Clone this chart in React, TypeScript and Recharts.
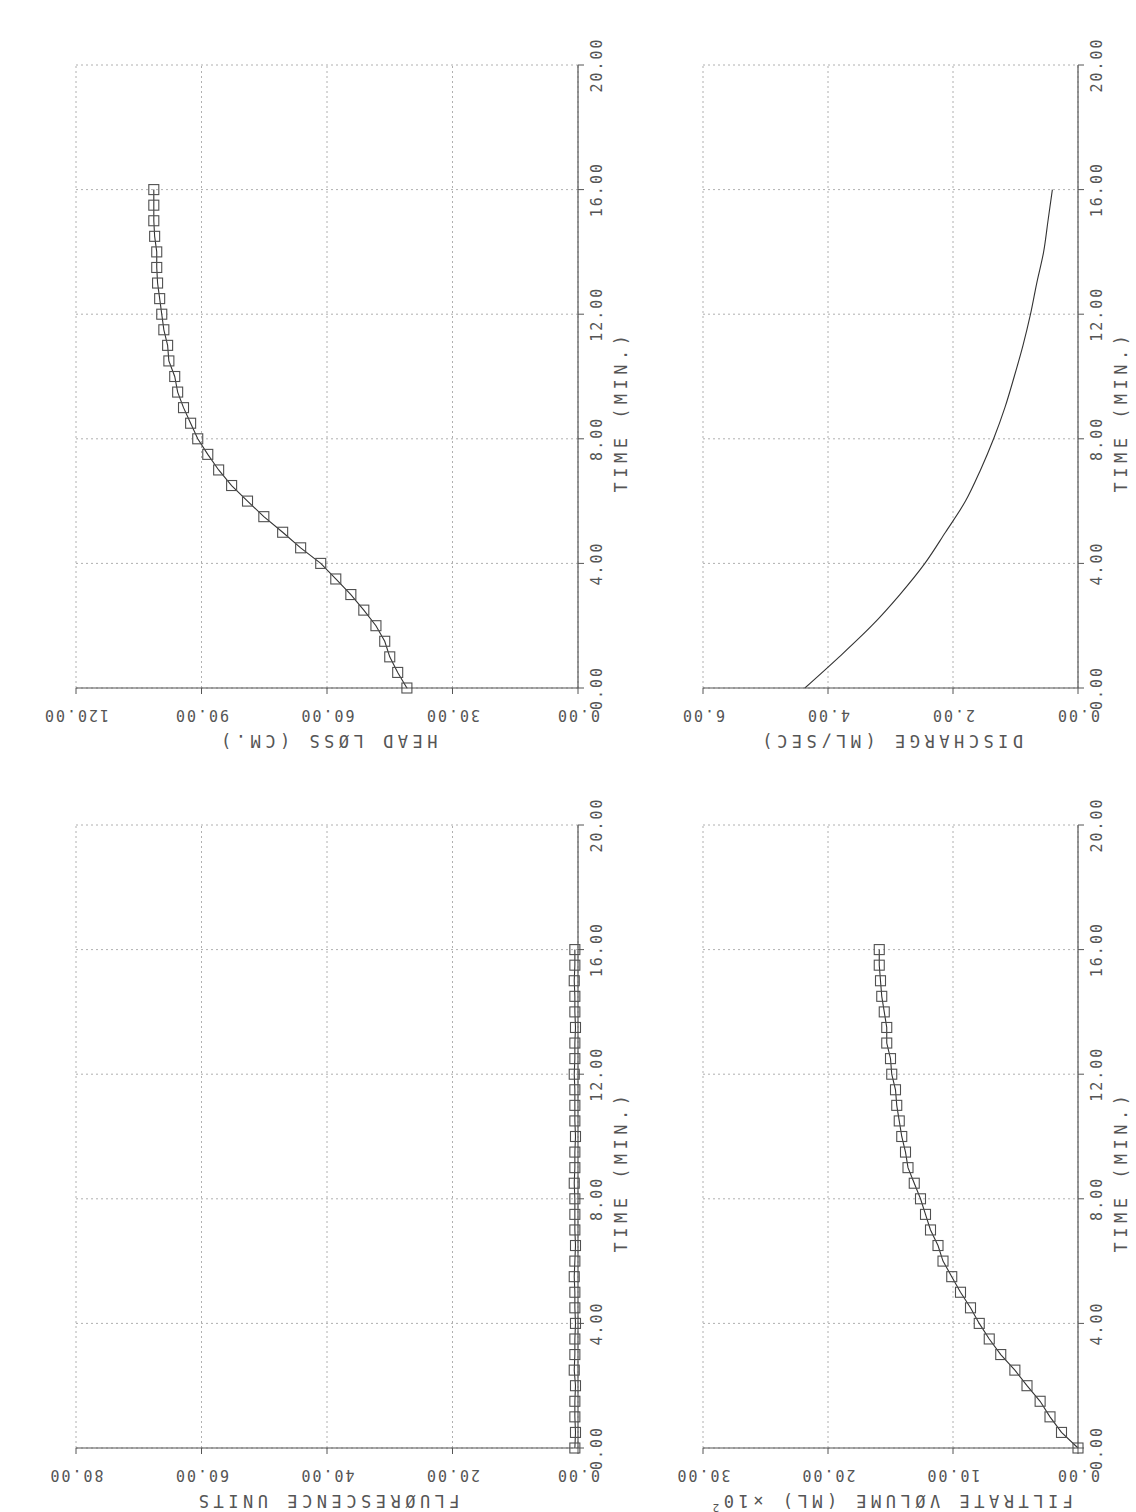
import { LineChart, Line, XAxis, YAxis, CartesianGrid } from "recharts";

// sampled every half minute, 0 to 16 min
const TIME_MIN = [
  0, 0.5, 1, 1.5, 2, 2.5, 3, 3.5, 4, 4.5, 5, 5.5, 6, 6.5, 7, 7.5, 8, 8.5, 9,
  9.5, 10, 10.5, 11, 11.5, 12, 12.5, 13, 13.5, 14, 14.5, 15, 15.5, 16,
];

const HEAD_LOSS_CM = [
  40.9, 43.1, 45.0, 46.2, 48.3, 51.2, 54.3, 57.9, 61.5, 66.3, 70.6, 75.1, 79.0,
  82.8, 85.9, 88.5, 90.9, 92.6, 94.3, 95.7, 96.4, 97.8, 98.1, 99.0, 99.5, 100.0,
  100.5, 100.7, 100.7, 101.2, 101.4, 101.4, 101.4,
];

const FLUORESCENCE_UNITS = [
  0.5, 0.4, 0.5, 0.5, 0.4, 0.6, 0.5, 0.5, 0.4, 0.5, 0.5, 0.6, 0.5, 0.4, 0.5,
  0.5, 0.5, 0.6, 0.5, 0.5, 0.4, 0.5, 0.5, 0.5, 0.6, 0.5, 0.5, 0.4, 0.5, 0.5,
  0.6, 0.5, 0.5,
];

// x10^2 ml
const FILTRATE_VOLUME = [
  0, 1.32, 2.24, 3.03, 4.08, 5.05, 6.18, 7.1, 7.9, 8.6, 9.4, 10.1, 10.8, 11.2,
  11.8, 12.2, 12.6, 13.1, 13.6, 13.8, 14.1, 14.3, 14.5, 14.6, 14.9, 15.0, 15.3,
  15.3, 15.5, 15.7, 15.8, 15.9, 15.9,
];

const DISCHARGE_TIME_MIN = [0, 1, 2, 3, 4, 5, 6, 7, 8, 9, 10, 11, 12, 13, 14, 15, 16];
const DISCHARGE_ML_SEC = [
  4.37, 3.82, 3.3, 2.85, 2.45, 2.12, 1.8, 1.56, 1.35, 1.17, 1.02, 0.88, 0.76,
  0.66, 0.55, 0.48, 0.41,
];

const TIME_TICKS = [0, 4, 8, 12, 16, 20];
const HEAD_LOSS_TICKS = [0, 30, 60, 90, 120];
const FLUORESCENCE_TICKS = [0, 20, 40, 60, 80];
const FILTRATE_TICKS = [0, 10, 20, 30];
const DISCHARGE_TICKS = [0, 2, 4, 6];

const FONT = "'DejaVu Sans Mono', 'Liberation Mono', monospace";
const INK = "#555";
const PAD_L = 100;
const PAD_T = 60;
const PAD_R = 40;
const PAD_B = 80;

type Row = { t: number; v: number };

const toRows = (times: number[], vals: number[]): Row[] =>
  times.map((t, i) => ({ t, v: vals[i] }));

const squareDot = (p: any) => (
  <rect
    key={`sq-${p.index}`}
    x={p.cx - 5}
    y={p.cy - 5}
    width={10}
    height={10}
    fill="none"
    stroke="#505050"
    strokeWidth={1.1}
  />
);

type PanelProps = {
  left: number;
  top: number;
  plotW: number;
  plotH: number;
  data: Row[];
  yTicks: number[];
  yTitle: string;
  yExp?: boolean;
  markers?: boolean;
};

function Panel({ left, top, plotW, plotH, data, yTicks, yTitle, yExp, markers }: PanelProps) {
  const w = plotW + PAD_L + PAD_R;
  const h = plotH + PAD_T + PAD_B;
  const axisY = PAD_T + plotH;
  const yMax = yTicks[yTicks.length - 1];

  const xTick = (p: any) => (
    <text
      key={`xt-${p.index}`}
      x={p.x}
      y={axisY + 19}
      textAnchor="middle"
      dominantBaseline="central"
      fontFamily={FONT}
      fontSize={15}
      letterSpacing={2}
      fill={INK}
    >
      {Number(p.payload.value).toFixed(2)}
    </text>
  );

  const yTick = (p: any) => {
    const cx = PAD_L - 27;
    return (
      <text
        key={`yt-${p.index}`}
        x={cx}
        y={p.y}
        transform={`rotate(-90 ${cx} ${p.y})`}
        textAnchor="middle"
        dominantBaseline="central"
        fontFamily={FONT}
        fontSize={15}
        letterSpacing={2}
        fill={INK}
      >
        {Number(p.payload.value).toFixed(2)}
      </text>
    );
  };

  const yTitleX = PAD_L - 53;
  const yTitleY = PAD_T + plotH / 2;

  return (
    <div style={{ position: "absolute", left: left - PAD_L, top: top - PAD_T, width: w, height: h }}>
      <LineChart width={w} height={h} data={data} margin={{ top: PAD_T, right: PAD_R, bottom: 0, left: 0 }}>
        <CartesianGrid stroke="#9c9c9c" strokeDasharray="2 3" strokeWidth={0.8} />
        <XAxis
          type="number"
          dataKey="t"
          domain={[0, 20]}
          ticks={TIME_TICKS}
          interval={0}
          height={PAD_B}
          tick={xTick}
          tickSize={6}
          axisLine={{ stroke: INK, strokeWidth: 1.2 }}
          tickLine={{ stroke: INK }}
        />
        <YAxis
          type="number"
          domain={[0, yMax]}
          ticks={yTicks}
          interval={0}
          width={PAD_L}
          tick={yTick}
          tickSize={6}
          axisLine={{ stroke: INK, strokeWidth: 1.2 }}
          tickLine={{ stroke: INK }}
        />
        <Line
          dataKey="v"
          type={markers ? "linear" : "monotone"}
          stroke="#333"
          strokeWidth={1.1}
          dot={markers ? squareDot : false}
          isAnimationActive={false}
        />
      </LineChart>
      <svg
        width={w}
        height={h}
        style={{ position: "absolute", left: 0, top: 0, pointerEvents: "none" }}
      >
        <text
          x={PAD_L + plotW / 2 - 35}
          y={axisY + 43}
          textAnchor="middle"
          dominantBaseline="central"
          fontFamily={FONT}
          fontSize={17}
          letterSpacing={4.5}
          fill={INK}
        >
          TIME (MIN.)
        </text>
        <text
          x={yTitleX}
          y={yTitleY}
          transform={`rotate(-90 ${yTitleX} ${yTitleY})`}
          textAnchor="middle"
          dominantBaseline="central"
          fontFamily={FONT}
          fontSize={17}
          letterSpacing={4.5}
          fill={INK}
        >
          {yTitle}
          {yExp && (
            <>
              <tspan>{"   \u00d710"}</tspan>
              <tspan dy={-7} fontSize={11}>
                2
              </tspan>
            </>
          )}
        </text>
      </svg>
    </div>
  );
}

export default function App() {
  return (
    <div
      style={{
        position: "absolute",
        left: 0,
        top: 0,
        width: 1512,
        height: 1136,
        background: "#fff",
        transform: "translateY(1512px) rotate(-90deg)",
        transformOrigin: "0 0",
      }}
    >
      <Panel
        left={64}
        top={76}
        plotW={623}
        plotH={502}
        data={toRows(TIME_MIN, FLUORESCENCE_UNITS)}
        yTicks={FLUORESCENCE_TICKS}
        yTitle="FLUØRESCENCE UNITS"
        markers
      />
      <Panel
        left={824}
        top={76}
        plotW={623}
        plotH={502}
        data={toRows(TIME_MIN, HEAD_LOSS_CM)}
        yTicks={HEAD_LOSS_TICKS}
        yTitle="HEAD LØSS (CM.)"
        markers
      />
      <Panel
        left={64}
        top={703}
        plotW={623}
        plotH={375}
        data={toRows(TIME_MIN, FILTRATE_VOLUME)}
        yTicks={FILTRATE_TICKS}
        yTitle="FILTRATE VØLUME (ML)"
        yExp
        markers
      />
      <Panel
        left={824}
        top={703}
        plotW={623}
        plotH={375}
        data={toRows(DISCHARGE_TIME_MIN, DISCHARGE_ML_SEC)}
        yTicks={DISCHARGE_TICKS}
        yTitle="DISCHARGE (ML/SEC)"
      />
    </div>
  );
}
